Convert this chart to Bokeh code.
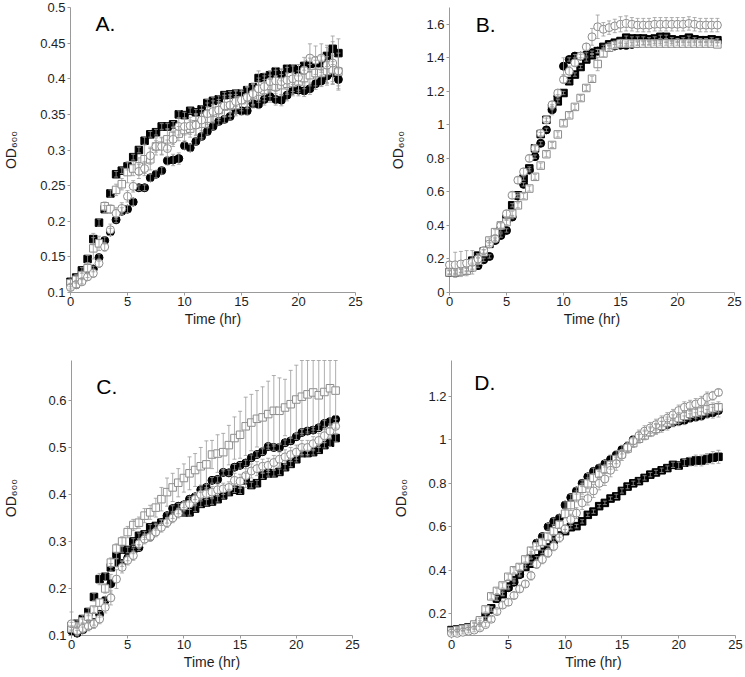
from bokeh.plotting import figure
from bokeh.layouts import column, row
from bokeh.models import Range1d, FixedTicker, Label, ColumnDataSource, CustomJSTickFormatter
from bokeh.embed import file_html
from bokeh.resources import INLINE

# ---------------- data ----------------
time_hr = [0, 0.5, 1, 1.5, 2, 2.5, 3, 3.5, 4, 4.5, 5, 5.5, 6, 6.5, 7, 7.5, 8, 8.5, 9, 9.5,
           10, 10.5, 11, 11.5, 12, 12.5, 13, 13.5, 14, 14.5, 15, 15.5, 16, 16.5, 17, 17.5,
           18, 18.5, 19, 19.5, 20, 20.5, 21, 21.5, 22, 22.5, 23, 23.5]
x_ticks = [0, 5, 10, 15, 20, 25]
x_title = "Time (hr)"
y_title = "OD\u2086\u2080\u2080"

# Panel A
a_yticks = [0.1, 0.15, 0.2, 0.25, 0.3, 0.35, 0.4, 0.45, 0.5]
a_fsq = [0.115,0.121,0.131,0.147,0.175,0.198,0.217,0.239,0.266,0.271,0.277,0.290,0.300,0.313,0.322,0.325,0.333,0.333,0.336,0.350,0.349,0.355,0.353,0.357,0.366,0.369,0.371,0.377,0.378,0.379,0.379,0.384,0.388,0.401,0.402,0.405,0.410,0.405,0.414,0.414,0.412,0.418,0.421,0.422,0.422,0.432,0.442,0.436]
a_fsq_err = [0.004,0.004,0.004,0.005,0.008,0.005,0.005,0.005,0.004,0.004,0.005,0.004,0.004,0.005,0.004,0.004,0.004,0.004,0.004,0.005,0.004,0.004,0.004,0.005,0.005,0.005,0.005,0.004,0.004,0.004,0.004,0.005,0.005,0.010,0.006,0.006,0.006,0.008,0.006,0.006,0.008,0.006,0.008,0.008,0.010,0.015,0.018,0.020]
a_fcir = [0.109,0.111,0.116,0.125,0.133,0.149,0.173,0.185,0.202,0.214,0.217,0.227,0.247,0.247,0.261,0.266,0.271,0.285,0.286,0.288,0.306,0.303,0.312,0.319,0.326,0.333,0.340,0.343,0.347,0.356,0.355,0.355,0.365,0.364,0.371,0.375,0.371,0.370,0.377,0.384,0.384,0.383,0.386,0.393,0.397,0.404,0.408,0.399]
a_fcir_err = [0.004,0.004,0.004,0.004,0.004,0.005,0.005,0.005,0.004,0.005,0.005,0.005,0.004,0.004,0.005,0.005,0.005,0.006,0.008,0.008,0.005,0.005,0.005,0.005,0.005,0.005,0.005,0.005,0.005,0.005,0.006,0.006,0.006,0.006,0.008,0.008,0.008,0.008,0.008,0.008,0.008,0.008,0.008,0.008,0.008,0.010,0.012,0.015]
a_osq = [0.113,0.118,0.124,0.134,0.162,0.169,0.221,0.217,0.244,0.252,0.269,0.274,0.277,0.287,0.287,0.305,0.306,0.315,0.320,0.323,0.328,0.330,0.336,0.337,0.344,0.352,0.356,0.361,0.362,0.363,0.370,0.373,0.377,0.382,0.384,0.390,0.389,0.391,0.393,0.394,0.396,0.401,0.405,0.408,0.408,0.411,0.413,0.410]
a_osq_err = [0.005,0.005,0.006,0.008,0.015,0.010,0.006,0.006,0.008,0.008,0.015,0.010,0.012,0.020,0.015,0.008,0.012,0.015,0.012,0.010,0.015,0.012,0.015,0.020,0.012,0.012,0.012,0.015,0.015,0.015,0.012,0.015,0.015,0.015,0.015,0.015,0.015,0.015,0.015,0.015,0.015,0.015,0.015,0.018,0.018,0.020,0.020,0.020]
a_ocir = [0.107,0.111,0.115,0.122,0.127,0.141,0.164,0.188,0.211,0.218,0.235,0.249,0.270,0.274,0.292,0.305,0.305,0.302,0.315,0.333,0.333,0.334,0.335,0.342,0.351,0.354,0.356,0.362,0.363,0.368,0.370,0.374,0.379,0.386,0.389,0.396,0.397,0.396,0.398,0.400,0.402,0.412,0.429,0.426,0.429,0.419,0.422,0.411]
a_ocir_err = [0.004,0.004,0.005,0.005,0.006,0.006,0.006,0.008,0.008,0.008,0.008,0.008,0.010,0.010,0.012,0.012,0.012,0.012,0.010,0.012,0.012,0.012,0.015,0.015,0.015,0.015,0.015,0.015,0.015,0.015,0.015,0.015,0.015,0.015,0.015,0.015,0.015,0.018,0.018,0.018,0.018,0.018,0.020,0.020,0.020,0.025,0.030,0.025]

# Panel B
b_yticks = [0, 0.2, 0.4, 0.6, 0.8, 1, 1.2, 1.4, 1.6]
b_fsq = [0.12,0.12,0.13,0.14,0.19,0.22,0.245,0.29,0.32,0.37,0.44,0.52,0.58,0.68,0.74,0.86,0.945,1.03,1.10,1.14,1.19,1.26,1.30,1.345,1.39,1.415,1.44,1.465,1.48,1.49,1.50,1.52,1.515,1.515,1.515,1.51,1.515,1.525,1.525,1.51,1.505,1.51,1.52,1.51,1.505,1.505,1.51,1.505]
b_fsq_err = [0.01,0.01,0.01,0.01,0.015,0.01,0.01,0.01,0.01,0.01,0.01,0.01,0.015,0.01,0.01,0.015,0.01,0.01,0.01,0.01,0.01,0.01,0.01,0.01,0.01,0.01,0.01,0.01,0.01,0.01,0.01,0.01,0.01,0.01,0.01,0.01,0.01,0.01,0.01,0.01,0.01,0.01,0.01,0.01,0.01,0.01,0.01,0.01]
b_fcir = [0.12,0.125,0.13,0.135,0.15,0.16,0.195,0.215,0.31,0.34,0.37,0.45,0.575,0.645,0.73,0.81,0.89,0.97,1.09,1.17,1.35,1.39,1.41,1.41,1.42,1.43,1.44,1.45,1.465,1.47,1.475,1.475,1.48,1.485,1.49,1.49,1.495,1.495,1.50,1.495,1.50,1.50,1.50,1.50,1.50,1.50,1.50,1.50]
b_fcir_err = [0.01,0.01,0.01,0.01,0.01,0.01,0.01,0.01,0.01,0.01,0.01,0.01,0.01,0.01,0.01,0.01,0.01,0.01,0.03,0.01,0.05,0.01,0.01,0.01,0.01,0.01,0.01,0.01,0.01,0.01,0.01,0.01,0.01,0.01,0.01,0.01,0.01,0.01,0.01,0.01,0.01,0.01,0.01,0.01,0.01,0.01,0.01,0.01]
b_osq = [0.12,0.12,0.125,0.13,0.15,0.19,0.24,0.31,0.36,0.40,0.42,0.47,0.52,0.575,0.62,0.69,0.757,0.825,0.88,0.943,1.01,1.057,1.107,1.16,1.22,1.275,1.363,1.426,1.46,1.475,1.485,1.485,1.485,1.485,1.485,1.485,1.485,1.485,1.485,1.485,1.485,1.485,1.485,1.485,1.485,1.485,1.485,1.48]
b_osq_err = [0.015,0.015,0.015,0.015,0.015,0.015,0.015,0.015,0.015,0.015,0.015,0.015,0.015,0.015,0.015,0.015,0.015,0.015,0.015,0.015,0.015,0.015,0.015,0.015,0.015,0.015,0.04,0.02,0.015,0.015,0.01,0.01,0.01,0.01,0.01,0.01,0.01,0.01,0.01,0.01,0.01,0.01,0.01,0.01,0.01,0.01,0.01,0.01]
b_ocir = [0.165,0.165,0.17,0.175,0.18,0.20,0.25,0.29,0.32,0.40,0.47,0.58,0.67,0.72,0.80,0.86,0.95,1.03,1.12,1.19,1.27,1.32,1.37,1.41,1.465,1.525,1.585,1.57,1.58,1.59,1.60,1.605,1.60,1.595,1.595,1.595,1.60,1.60,1.60,1.60,1.60,1.60,1.605,1.60,1.595,1.595,1.595,1.595]
b_ocir_err = [0.02,0.075,0.075,0.075,0.07,0.03,0.02,0.02,0.02,0.02,0.02,0.02,0.02,0.02,0.02,0.02,0.02,0.02,0.02,0.02,0.02,0.03,0.02,0.02,0.02,0.05,0.07,0.04,0.04,0.04,0.045,0.045,0.04,0.04,0.04,0.04,0.04,0.04,0.04,0.04,0.04,0.04,0.04,0.04,0.04,0.04,0.04,0.04]

# Panel C
c_yticks = [0.1, 0.2, 0.3, 0.4, 0.5, 0.6]
c_fsq = [0.12,0.125,0.135,0.15,0.182,0.22,0.225,0.245,0.27,0.283,0.282,0.30,0.312,0.315,0.33,0.333,0.34,0.345,0.355,0.365,0.362,0.362,0.37,0.38,0.383,0.385,0.39,0.398,0.405,0.41,0.408,0.43,0.42,0.424,0.44,0.445,0.445,0.448,0.458,0.465,0.475,0.488,0.488,0.49,0.495,0.505,0.51,0.52]
c_fsq_err = [0.008,0.008,0.008,0.008,0.008,0.012,0.008,0.008,0.006,0.006,0.006,0.006,0.006,0.006,0.006,0.006,0.006,0.006,0.006,0.006,0.006,0.006,0.006,0.006,0.006,0.006,0.006,0.006,0.006,0.006,0.006,0.015,0.006,0.006,0.006,0.006,0.006,0.006,0.006,0.006,0.006,0.006,0.006,0.006,0.006,0.006,0.008,0.008]
c_fcir = [0.11,0.105,0.112,0.12,0.128,0.145,0.175,0.21,0.255,0.253,0.265,0.28,0.287,0.31,0.31,0.33,0.34,0.355,0.37,0.375,0.378,0.39,0.395,0.41,0.415,0.43,0.432,0.447,0.446,0.458,0.462,0.467,0.478,0.485,0.491,0.502,0.50,0.50,0.51,0.514,0.523,0.532,0.535,0.537,0.542,0.551,0.555,0.56]
c_fcir_err = [0.01,0.006,0.006,0.006,0.006,0.006,0.008,0.02,0.008,0.006,0.006,0.006,0.006,0.006,0.006,0.006,0.006,0.006,0.006,0.006,0.006,0.006,0.006,0.006,0.006,0.006,0.006,0.006,0.006,0.006,0.006,0.006,0.006,0.006,0.006,0.006,0.006,0.006,0.006,0.006,0.006,0.006,0.006,0.006,0.006,0.006,0.008,0.008]
c_osq = [0.115,0.12,0.13,0.14,0.155,0.17,0.20,0.255,0.285,0.30,0.32,0.335,0.34,0.355,0.362,0.372,0.39,0.405,0.415,0.425,0.435,0.445,0.452,0.46,0.464,0.485,0.487,0.49,0.505,0.52,0.527,0.545,0.553,0.561,0.564,0.571,0.578,0.578,0.585,0.592,0.602,0.608,0.613,0.617,0.611,0.618,0.626,0.621]
c_osq_err = [0.005,0.005,0.005,0.006,0.006,0.008,0.01,0.01,0.01,0.01,0.012,0.012,0.012,0.015,0.015,0.02,0.025,0.03,0.03,0.03,0.03,0.035,0.035,0.04,0.05,0.03,0.04,0.04,0.042,0.045,0.05,0.062,0.06,0.06,0.065,0.07,0.075,0.07,0.06,0.072,0.073,0.078,0.08,0.08,0.075,0.08,0.085,0.08]
c_ocir = [0.125,0.11,0.115,0.12,0.125,0.135,0.16,0.18,0.22,0.245,0.26,0.27,0.295,0.305,0.31,0.32,0.33,0.34,0.35,0.36,0.375,0.38,0.39,0.40,0.402,0.405,0.41,0.412,0.415,0.43,0.428,0.44,0.45,0.455,0.46,0.462,0.468,0.475,0.48,0.485,0.49,0.50,0.50,0.508,0.515,0.525,0.535,0.545]
c_ocir_err = [0.025,0.01,0.01,0.01,0.01,0.01,0.012,0.015,0.02,0.012,0.01,0.01,0.01,0.01,0.01,0.01,0.01,0.01,0.01,0.01,0.01,0.012,0.012,0.012,0.012,0.012,0.012,0.012,0.012,0.015,0.015,0.015,0.015,0.015,0.015,0.015,0.015,0.015,0.015,0.015,0.015,0.015,0.015,0.015,0.015,0.015,0.015,0.015]

# Panel D
d_yticks = [0.2, 0.4, 0.6, 0.8, 1, 1.2]
d_fsq = [0.125,0.128,0.132,0.138,0.148,0.16,0.19,0.225,0.27,0.29,0.325,0.355,0.385,0.415,0.43,0.455,0.485,0.505,0.54,0.56,0.58,0.598,0.603,0.625,0.655,0.67,0.695,0.71,0.73,0.74,0.765,0.785,0.80,0.81,0.825,0.84,0.85,0.86,0.87,0.885,0.882,0.895,0.90,0.905,0.905,0.912,0.918,0.922]
d_fsq_err = [0.008,0.008,0.008,0.008,0.008,0.008,0.008,0.008,0.008,0.008,0.008,0.008,0.008,0.008,0.008,0.008,0.008,0.008,0.008,0.008,0.008,0.008,0.008,0.008,0.008,0.008,0.008,0.008,0.008,0.01,0.01,0.01,0.01,0.01,0.01,0.01,0.01,0.01,0.01,0.012,0.015,0.015,0.02,0.025,0.025,0.025,0.028,0.03]
d_fcir = [0.12,0.12,0.125,0.13,0.135,0.15,0.18,0.22,0.27,0.295,0.32,0.345,0.38,0.42,0.47,0.525,0.555,0.60,0.625,0.64,0.70,0.735,0.765,0.80,0.83,0.855,0.87,0.89,0.91,0.93,0.955,0.97,1.0,1.015,1.025,1.04,1.05,1.06,1.07,1.08,1.085,1.09,1.1,1.105,1.11,1.12,1.125,1.135]
d_fcir_err = [0.008,0.008,0.008,0.008,0.008,0.008,0.008,0.01,0.01,0.01,0.01,0.01,0.01,0.01,0.015,0.015,0.015,0.015,0.015,0.015,0.015,0.015,0.015,0.015,0.015,0.015,0.015,0.015,0.02,0.02,0.02,0.02,0.02,0.02,0.02,0.02,0.025,0.025,0.025,0.02,0.02,0.02,0.02,0.02,0.02,0.02,0.025,0.03]
d_osq = [0.12,0.125,0.13,0.135,0.15,0.17,0.22,0.28,0.305,0.33,0.37,0.40,0.415,0.45,0.49,0.51,0.53,0.555,0.58,0.61,0.66,0.70,0.74,0.775,0.80,0.825,0.845,0.865,0.885,0.91,0.935,0.96,0.985,1.005,1.02,1.035,1.05,1.065,1.08,1.09,1.10,1.11,1.12,1.125,1.13,1.14,1.145,1.15]
d_osq_err = [0.008,0.008,0.008,0.008,0.01,0.01,0.012,0.012,0.012,0.012,0.012,0.012,0.012,0.012,0.015,0.015,0.015,0.015,0.015,0.015,0.02,0.025,0.025,0.025,0.025,0.02,0.02,0.02,0.02,0.02,0.02,0.02,0.02,0.02,0.02,0.02,0.02,0.02,0.025,0.025,0.025,0.025,0.025,0.025,0.025,0.025,0.025,0.025]
d_ocir = [0.11,0.11,0.115,0.12,0.125,0.135,0.15,0.175,0.21,0.24,0.253,0.284,0.314,0.337,0.375,0.428,0.45,0.48,0.51,0.55,0.59,0.633,0.663,0.71,0.73,0.765,0.80,0.82,0.86,0.89,0.93,0.965,0.995,1.02,1.04,1.055,1.07,1.085,1.10,1.115,1.135,1.15,1.157,1.165,1.175,1.195,1.203,1.218]
d_ocir_err = [0.008,0.008,0.008,0.008,0.008,0.01,0.01,0.012,0.012,0.015,0.015,0.015,0.015,0.015,0.02,0.02,0.02,0.02,0.02,0.02,0.02,0.025,0.025,0.03,0.03,0.03,0.03,0.03,0.03,0.03,0.025,0.025,0.025,0.025,0.025,0.025,0.025,0.025,0.025,0.025,0.025,0.025,0.025,0.025,0.025,0.025,0.02,0.015]

for arr in [a_fsq, a_fsq_err, a_fcir, a_fcir_err, a_osq, a_osq_err, a_ocir, a_ocir_err,
            b_fsq, b_fsq_err, b_fcir, b_fcir_err, b_osq, b_osq_err, b_ocir, b_ocir_err,
            c_fsq, c_fsq_err, c_fcir, c_fcir_err, c_osq, c_osq_err, c_ocir, c_ocir_err,
            d_fsq, d_fsq_err, d_fcir, d_fcir_err, d_osq, d_osq_err, d_ocir, d_ocir_err]:
    assert len(arr) == len(time_hr), len(arr)

# ---------------- style ----------------
FONT = "Liberation Sans"
AXIS_GRAY = "#9a9a9a"
OPEN_GRAY = "#8c8c8c"
ERR_GRAY = "#9a9a9a"
TEXT = "#1e1e1e"


def make_panel(letter, letter_xy, y_lo, y_hi, y_ticks, series, size, borders, y_standoff):
    w, h = size
    bl, br, bt, bb = borders
    p = figure(width=w, height=h, x_range=Range1d(0, 25), y_range=Range1d(y_lo, y_hi),
               output_backend="svg", toolbar_location=None,
               min_border_left=bl, min_border_right=br, min_border_top=bt, min_border_bottom=bb,
               background_fill_color="white", border_fill_color="white")
    p.outline_line_color = None
    p.xgrid.visible = False
    p.ygrid.visible = False
    fmt = CustomJSTickFormatter(code="return String(tick);")
    for ax, ticks in ((p.xaxis[0], x_ticks), (p.yaxis[0], y_ticks)):
        ax.ticker = FixedTicker(ticks=ticks)
        ax.formatter = fmt
        ax.axis_line_color = AXIS_GRAY
        ax.axis_line_width = 1
        ax.major_tick_line_color = AXIS_GRAY
        ax.major_tick_out = 3
        ax.major_tick_in = 0
        ax.minor_tick_line_color = None
        ax.major_label_text_font = FONT
        ax.major_label_text_font_size = "13px"
        ax.major_label_text_color = TEXT
        ax.major_label_standoff = 2
        ax.axis_label_text_font = FONT
        ax.axis_label_text_font_size = "14px"
        ax.axis_label_text_font_style = "normal"
        ax.axis_label_text_color = TEXT
    p.xaxis.major_label_standoff = 1
    p.xaxis.axis_label = x_title
    p.xaxis.axis_label_standoff = 2
    p.yaxis.axis_label = y_title
    p.yaxis.axis_label_standoff = y_standoff

    # markers: filled first, open (white-filled) on top
    for y, err, marker, filled in series:
        fill = "black" if filled else "white"
        line = "black" if filled else OPEN_GRAY
        src = ColumnDataSource(dict(x=time_hr, y=y))
        r = p.scatter("x", "y", source=src, marker=marker, size=7.5 if marker == "square" else 8,
                      fill_color=fill, line_color=line, line_width=1)
        r.level = "overlay"
    # error bars
    for y, err, marker, filled in series:
        lo = [v - e for v, e in zip(y, err)]
        hi = [min(v + e, y_hi) for v, e in zip(y, err)]
        src = ColumnDataSource(dict(x=time_hr, lo=lo, hi=hi))
        r1 = p.segment(x0="x", y0="lo", x1="x", y1="hi", source=src, line_color=ERR_GRAY, line_width=0.8)
        r2 = p.scatter("x", "hi", source=src, marker="dash", size=4, line_color=ERR_GRAY, line_width=0.8)
        r3 = p.scatter("x", "lo", source=src, marker="dash", size=4, line_color=ERR_GRAY, line_width=0.8)
        for r in (r1, r2, r3):
            r.level = "overlay"

    p.add_layout(Label(x=letter_xy[0], y=letter_xy[1], text=letter, text_font=FONT,
                       text_font_size="21px", text_color="black", text_baseline="middle"))
    return p


def ser(fsq, fsq_e, fcir, fcir_e, osq, osq_e, ocir, ocir_e):
    return [(fsq, fsq_e, "square", True), (fcir, fcir_e, "circle", True),
            (osq, osq_e, "square", False), (ocir, ocir_e, "circle", False)]


pA = make_panel("A.", (2.2, 0.478), 0.1, 0.5, a_yticks,
                ser(a_fsq, a_fsq_err, a_fcir, a_fcir_err, a_osq, a_osq_err, a_ocir, a_ocir_err),
                (372, 338), (67, 17, 7, 45), 18)
pB = make_panel("B.", (2.3, 1.6), 0.0, 1.7, b_yticks,
                ser(b_fsq, b_fsq_err, b_fcir, b_fcir_err, b_osq, b_osq_err, b_ocir, b_ocir_err),
                (372, 338), (77, 10, 5, 46), 17)
pC = make_panel("C.", (2.2, 0.63), 0.1, 0.685, c_yticks,
                ser(c_fsq, c_fsq_err, c_fcir, c_fcir_err, c_osq, c_osq_err, c_ocir, c_ocir_err),
                (372, 338), (67, 20, 22, 41), 26)
pD = make_panel("D.", (2.0, 1.262), 0.1, 1.365, d_yticks,
                ser(d_fsq, d_fsq_err, d_fcir, d_fcir_err, d_osq, d_osq_err, d_ocir, d_ocir_err),
                (372, 338), (79, 9, 22, 39), 16)

layout = column(row(pA, pB), row(pC, pD))
open("out.html", "w").write(file_html(layout, INLINE))
